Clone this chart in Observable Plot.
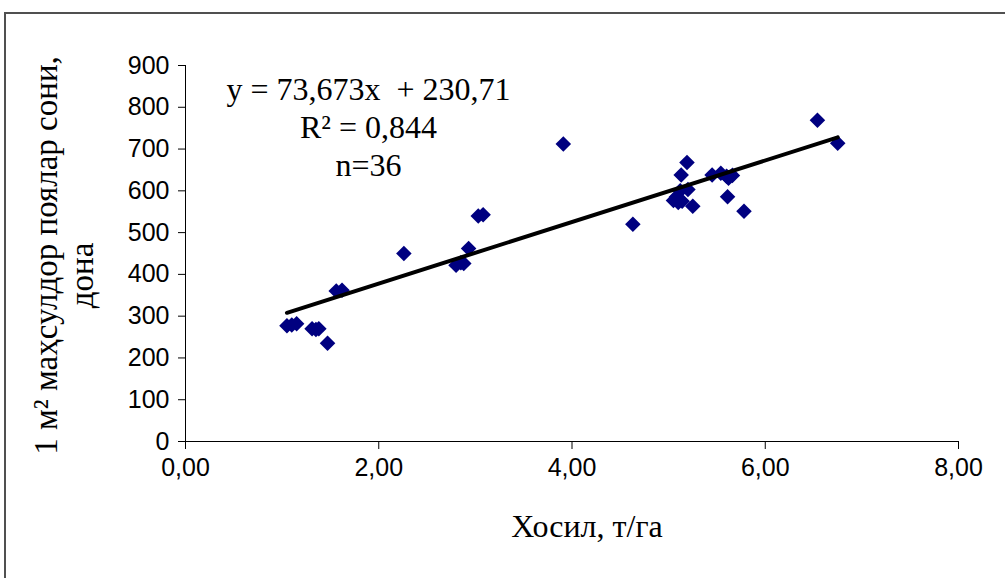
<!DOCTYPE html>
<html>
<head>
<meta charset="utf-8">
<script src="https://cdn.jsdelivr.net/npm/d3@7"></script>
<script src="https://cdn.jsdelivr.net/npm/@observablehq/plot@0.6"></script>
<style>
  body { margin: 0; background: #fff; }
  #chart { position: relative; width: 1005px; height: 578px; overflow: hidden; background: #fff; }
  #frame { position: absolute; left: 4px; top: 12px; width: 1200px; height: 800px;
           border-left: 2px solid #505050; border-top: 2px solid #505050; }
  #chart svg { position: absolute; left: 0; top: 0; }
</style>
</head>
<body>
<div id="chart"><div id="frame"></div></div>
<script>
// Yield (t/ha) against number of productive stems per 1 m², 36 plots
const yieldT = [1.05, 1.15, 1.10, 1.31, 1.38, 1.35, 1.47, 1.56, 1.62, 2.26,
                2.80, 2.85, 2.88, 2.93, 3.03, 3.08, 3.91, 4.63, 5.05, 5.08,
                5.10, 5.12, 5.14, 5.19, 5.20, 5.25, 5.13, 5.45, 5.54, 5.62,
                5.60, 5.66, 5.61, 5.78, 6.54, 6.75];
const stems  = [277, 282, 279, 270, 270, 268, 235, 360, 362, 450,
                422, 428, 426, 462, 540, 543, 712, 520, 577, 585,
                572, 600, 575, 668, 603, 563, 638, 638, 642, 630,
                635, 637, 586, 551, 769, 714];

// Linear trend stated on the chart
const slope = 73.673;
const intercept = 230.71;
const r2 = "0,844";

const xTicks = [0, 2, 4, 6, 8];
const yTicks = [0, 100, 200, 300, 400, 500, 600, 700, 800, 900];

const xTitle = "Хосил, т/га";
const yTitleLine1 = "1 м² маҳсулдор поялар сони,";
const yTitleLine2 = "дона";
const equation = [
  `y = ${String(slope).replace(".", ",")}x  + ${String(intercept).replace(".", ",")}`,
  `R² = ${r2}`,
  `n=${yieldT.length}`
].join("\n");

const points = yieldT.map((x, i) => ({x, y: stems[i]}));
const trend = d3.extent(yieldT).map(x => ({x, y: slope * x + intercept}));

const serif = "'Liberation Serif', 'Times New Roman', serif";
const comma2 = d => d.toFixed(2).replace(".", ",");

const chart = Plot.plot({
  width: 1005,
  height: 578,
  marginLeft: 185,
  marginRight: 47,
  marginTop: 65,
  marginBottom: 137,
  style: {
    background: "transparent",
    fontFamily: "'Liberation Sans', Arial, sans-serif",
    fontSize: "25px",
    color: "#000",
    overflow: "visible"
  },
  x: {domain: [0, 8]},
  y: {domain: [0, 900]},
  marks: [
    Plot.axisX({ticks: xTicks, tickFormat: comma2, tickSize: 8, tickPadding: 9,
                label: null, stroke: "#000", fill: "#000"}),
    Plot.axisY({ticks: yTicks, tickSize: 7, tickPadding: 9,
                label: null, stroke: "#000", fill: "#000"}),
    Plot.ruleX([0], {stroke: "#000", strokeWidth: 1}),
    Plot.ruleY([0], {stroke: "#000", strokeWidth: 1}),
    Plot.dot(points, {x: "x", y: "y", symbol: "diamond2", r: 7,
                      fill: "#000080", stroke: "none"}),
    Plot.line(trend, {x: "x", y: "y", stroke: "#000", strokeWidth: 4}),
    Plot.text([equation], {frameAnchor: "top-left", dx: 183, dy: 7,
                           textAnchor: "middle", lineAnchor: "top", lineHeight: 1.19,
                           fontFamily: serif, fontSize: 32, fill: "#000"}),
    Plot.text([xTitle], {frameAnchor: "bottom", dx: 15, dy: 85, lineAnchor: "middle",
                         fontFamily: serif, fontSize: 32, fill: "#000"}),
    Plot.text([yTitleLine1], {frameAnchor: "left", dx: -139, dy: 2, rotate: -90,
                              lineAnchor: "middle", textAnchor: "middle",
                              fontFamily: serif, fontSize: 33, fill: "#000"}),
    Plot.text([yTitleLine2], {frameAnchor: "left", dx: -103, dy: 22, rotate: -90,
                              lineAnchor: "middle", textAnchor: "middle",
                              fontFamily: serif, fontSize: 33, fill: "#000"})
  ]
});

document.getElementById("chart").appendChild(chart);
</script>
</body>
</html>
